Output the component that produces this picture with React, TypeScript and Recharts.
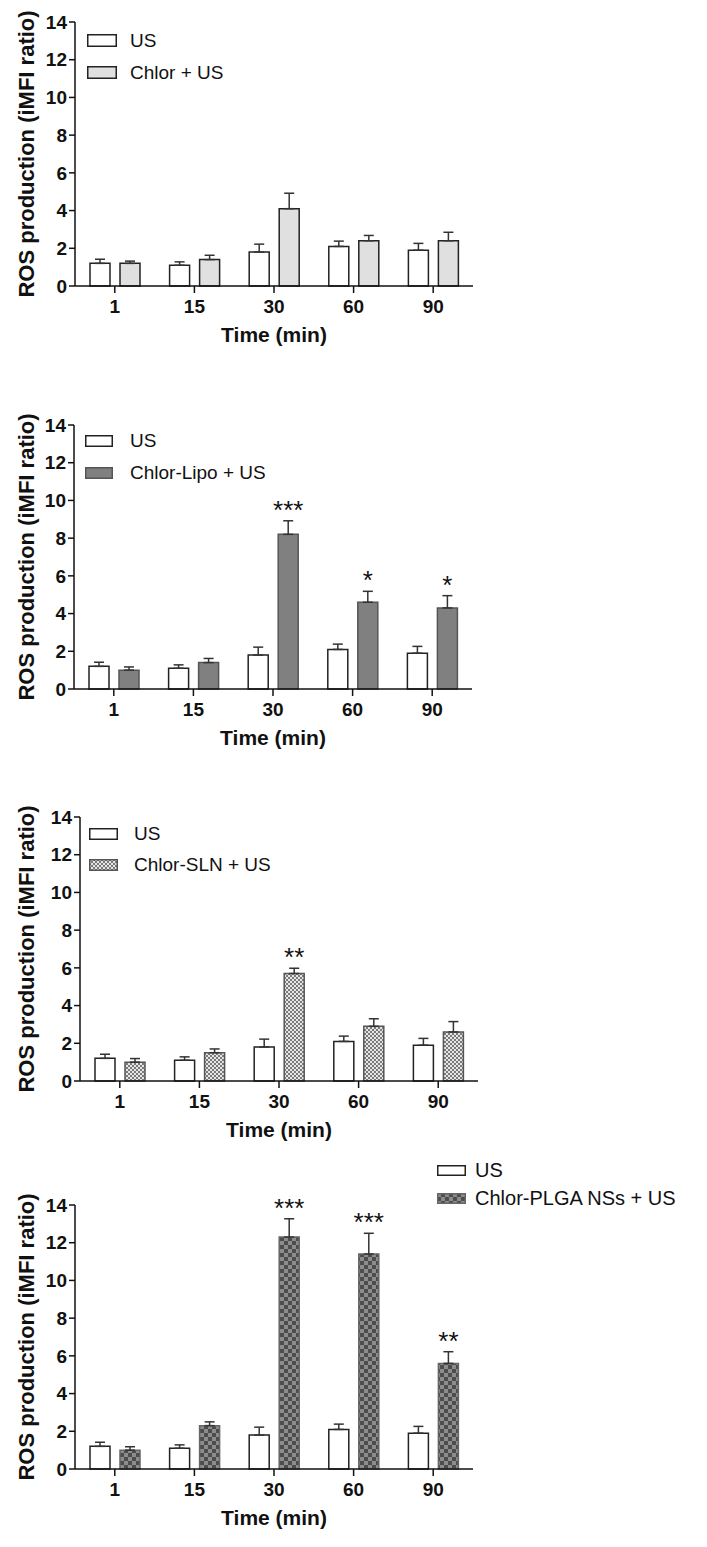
import React from 'react';
import { BarChart, Bar, XAxis, YAxis, ErrorBar, LabelList, Legend } from 'recharts';

const timeLabels = ['1', '15', '30', '60', '90'];
const yTicks = [0, 2, 4, 6, 8, 10, 12, 14];

// control group, same in every panel
const usMean = [1.2, 1.1, 1.8, 2.1, 1.9];
const usErr = [0.22, 0.18, 0.42, 0.28, 0.36];

const chlorMean = [1.2, 1.4, 4.1, 2.4, 2.4];
const chlorErr = [0.12, 0.23, 0.82, 0.28, 0.45];
const chlorStars = ['', '', '', '', ''];

const lipoMean = [1.0, 1.4, 8.2, 4.6, 4.3];
const lipoErr = [0.17, 0.22, 0.72, 0.58, 0.65];
const lipoStars = ['', '', '***', '*', '*'];

const slnMean = [1.0, 1.5, 5.7, 2.9, 2.6];
const slnErr = [0.19, 0.2, 0.28, 0.4, 0.55];
const slnStars = ['', '', '**', '', ''];

const plgaMean = [1.0, 2.3, 12.3, 11.4, 5.6];
const plgaErr = [0.18, 0.2, 0.97, 1.1, 0.62];
const plgaStars = ['', '', '***', '***', '**'];

const FONT = '"Liberation Sans", Arial, sans-serif';
const PLOT_H = 264;
const PLOT_W = 398;
const CHART_W = 707;
const X_AXIS_H = 70;

const buildData = (mean: number[], err: number[], stars: string[]) =>
  timeLabels.map((t, i) => ({
    time: t,
    us: usMean[i],
    usErr: [0, usErr[i]],
    trt: mean[i],
    trtErr: [0, err[i]],
    star: stars[i],
  }));

interface LegendCfg {
  boxX: number;
  boxW: number;
  boxH: number;
  firstY: number;
  rowGap: number;
  textX: number;
  fontSize: number;
}

interface PanelProps {
  plotTop: number;
  axisX: number;
  name: string;
  fill: string;
  stroke: string;
  mean: number[];
  err: number[];
  stars: string[];
  legend: LegendCfg;
}

const Patterns = () => (
  <defs>
    <pattern id="slnPattern" width="4" height="4" patternUnits="userSpaceOnUse">
      <rect width="4" height="4" fill="#e6e6e6" />
      <rect x="0" y="0" width="2" height="2" fill="#7a7a7a" />
      <rect x="2" y="2" width="2" height="2" fill="#7a7a7a" />
    </pattern>
    <pattern id="plgaPattern" width="8" height="8" patternUnits="userSpaceOnUse">
      <rect width="8" height="8" fill="#4d4d4d" />
      <rect x="0" y="0" width="4" height="4" fill="#8c8c8c" />
      <rect x="4" y="4" width="4" height="4" fill="#8c8c8c" />
    </pattern>
  </defs>
);

const Panel: React.FC<PanelProps> = ({ plotTop, axisX, name, fill, stroke, mean, err, stars, legend }) => {
  const data = buildData(mean, err, stars);
  const mTop = Math.min(60, plotTop);
  const boxTop = plotTop - mTop;
  const height = mTop + PLOT_H + X_AXIS_H;

  const series = [
    { label: 'US', fill: '#ffffff', stroke: '#222' },
    { label: name, fill, stroke },
  ];

  const renderLegend = () => (
    <div style={{ fontFamily: FONT, fontSize: legend.fontSize, color: '#111' }}>
      {series.map((s) => (
        <div key={s.label} style={{ display: 'flex', alignItems: 'center', height: legend.rowGap, whiteSpace: 'nowrap' }}>
          <svg width={legend.boxW} height={legend.boxH} style={{ display: 'block' }}>
            <rect x={0.75} y={0.75} width={legend.boxW - 1.5} height={legend.boxH - 1.5} fill={s.fill} stroke={s.stroke} strokeWidth={1.5} />
          </svg>
          <span style={{ marginLeft: legend.textX - legend.boxX - legend.boxW }}>{s.label}</span>
        </div>
      ))}
    </div>
  );

  const renderStar = (props: any) => {
    const { index, value } = props;
    const vb = props.viewBox || props;
    if (!value) return null;
    const d = data[index];
    const pxPerUnit = vb.height / d.trt;
    const capY = vb.y - d.trtErr[1] * pxPerUnit;
    return (
      <text x={vb.x + vb.width / 2} y={capY - 2} textAnchor="middle" fontSize={26} fontFamily={FONT} fill="#111">
        {value}
      </text>
    );
  };

  const renderYLabel = (props: any) => {
    const vb = props.viewBox;
    const cy = vb.y + vb.height / 2;
    return (
      <text x={26} y={cy} transform={`rotate(-90 26 ${cy})`} textAnchor="middle" dominantBaseline="central" fontSize={22} fontWeight="bold" fontFamily={FONT} fill="#111">
        ROS production (iMFI ratio)
      </text>
    );
  };

  const renderXLabel = (props: any) => {
    const vb = props.viewBox;
    return (
      <text x={vb.x + vb.width / 2} y={vb.y + 56} textAnchor="middle" fontSize={21} fontWeight="bold" fontFamily={FONT} fill="#111">
        Time (min)
      </text>
    );
  };

  return (
    <div style={{ position: 'absolute', left: 0, top: boxTop, width: CHART_W, height }}>
      <BarChart
        width={CHART_W}
        height={height}
        data={data}
        margin={{ top: mTop, right: CHART_W - axisX - PLOT_W, bottom: 0, left: 0 }}
        barSize={20}
        barGap={10}
      >
        <Patterns />
        <XAxis
          dataKey="time"
          height={X_AXIS_H}
          stroke="#111"
          strokeWidth={1.5}
          tickSize={7}
          tickMargin={7}
          tick={{ fontSize: 19, fontWeight: 'bold', fill: '#111', fontFamily: FONT }}
          label={{ content: renderXLabel }}
        />
        <YAxis
          width={axisX}
          domain={[0, 14]}
          ticks={yTicks}
          interval={0}
          stroke="#111"
          strokeWidth={1.5}
          tickSize={6}
          tickMargin={2}
          tick={{ fontSize: 19, fontWeight: 'bold', fill: '#111', fontFamily: FONT }}
          label={{ content: renderYLabel }}
        />
        <Legend
          layout="horizontal"
          verticalAlign="middle"
          align="center"
          content={renderLegend}
          wrapperStyle={{
            position: 'absolute',
            left: legend.boxX,
            top: legend.firstY - legend.rowGap / 2 - boxTop,
            width: 'auto',
            height: 'auto',
            margin: 0,
            padding: 0,
          }}
        />
        <Bar dataKey="us" name="US" fill="#ffffff" stroke="#222" strokeWidth={1.5} isAnimationActive={false}>
          <ErrorBar dataKey="usErr" width={5} stroke="#333" strokeWidth={1.5} isAnimationActive={false} />
        </Bar>
        <Bar dataKey="trt" name={name} fill={fill} stroke={stroke} strokeWidth={1.5} isAnimationActive={false}>
          <ErrorBar dataKey="trtErr" width={5} stroke="#333" strokeWidth={1.5} isAnimationActive={false} />
          <LabelList dataKey="star" content={renderStar} />
        </Bar>
      </BarChart>
    </div>
  );
};

export default function App() {
  return (
    <div style={{ position: 'absolute', left: 0, top: 0, width: 707, height: 1547, background: '#fff', overflow: 'hidden' }}>
      <Panel
        plotTop={22}
        axisX={75}
        name="Chlor + US"
        fill="#e0e0e0"
        stroke="#222"
        mean={chlorMean}
        err={chlorErr}
        stars={chlorStars}
        legend={{ boxX: 87, boxW: 30, boxH: 13, firstY: 40.5, rowGap: 32, textX: 130, fontSize: 19 }}
      />
      <Panel
        plotTop={425}
        axisX={74}
        name="Chlor-Lipo + US"
        fill="#808080"
        stroke="#555"
        mean={lipoMean}
        err={lipoErr}
        stars={lipoStars}
        legend={{ boxX: 85, boxW: 28, boxH: 12, firstY: 441, rowGap: 32, textX: 130, fontSize: 19 }}
      />
      <Panel
        plotTop={817}
        axisX={80}
        name="Chlor-SLN + US"
        fill="url(#slnPattern)"
        stroke="#555"
        mean={slnMean}
        err={slnErr}
        stars={slnStars}
        legend={{ boxX: 89, boxW: 29, boxH: 12, firstY: 833.5, rowGap: 31, textX: 134, fontSize: 19 }}
      />
      <Panel
        plotTop={1205}
        axisX={75}
        name="Chlor-PLGA NSs + US"
        fill="url(#plgaPattern)"
        stroke="#666"
        mean={plgaMean}
        err={plgaErr}
        stars={plgaStars}
        legend={{ boxX: 437, boxW: 29, boxH: 11, firstY: 1170, rowGap: 28, textX: 475, fontSize: 20 }}
      />
    </div>
  );
}
